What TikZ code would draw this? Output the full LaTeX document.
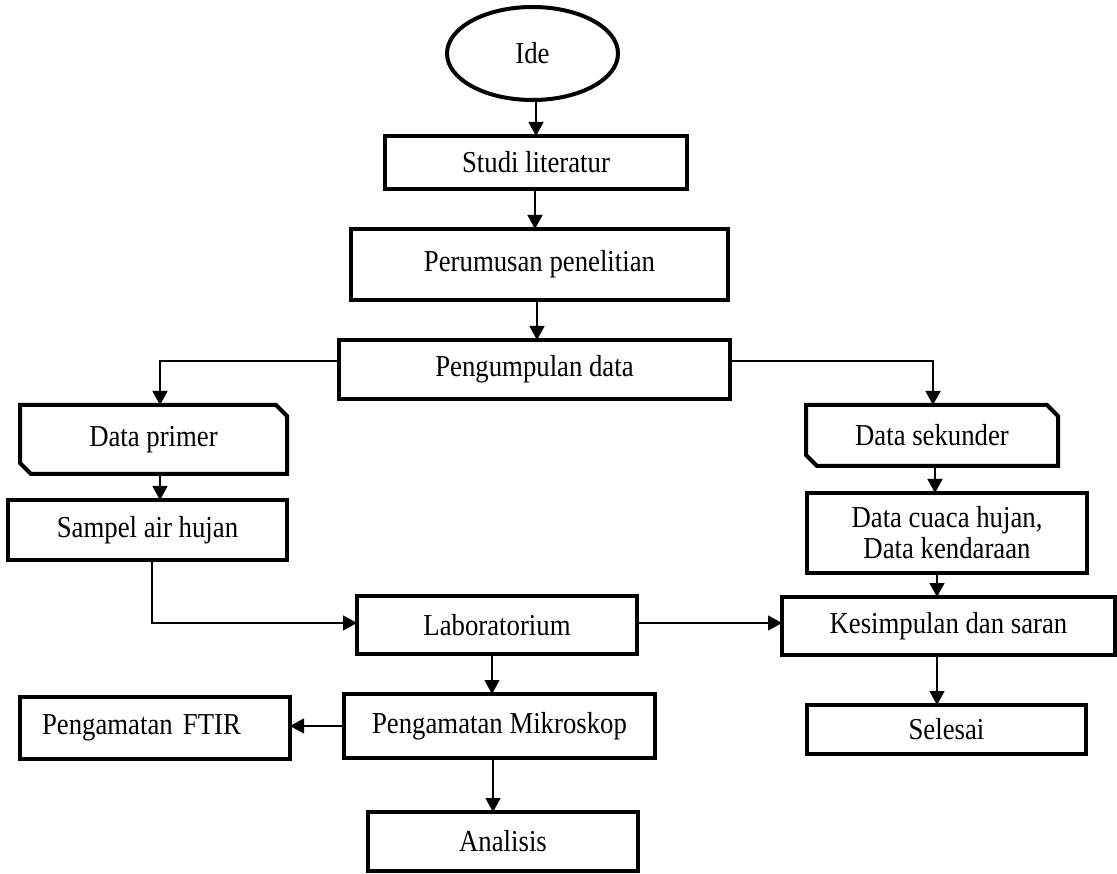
\documentclass[tikz,border=0pt]{standalone}
\usepackage{fontspec}
\setmainfont[FakeStretch=0.88]{Liberation Serif}
\usetikzlibrary{arrows.meta,shapes.geometric,calc}
\begin{document}
\begin{tikzpicture}[x=1pt,y=-1pt,
  every node/.style={font=\fontsize{30.4}{31}\selectfont, inner sep=0pt, outer sep=0pt},
  box/.style={draw, line width=4pt, rectangle, align=center, fill=white},
  cardbox/.style={rectangle, align=center},
  cardline/.style={line width=4pt, line join=miter},
  termbox/.style={draw, line width=4pt, ellipse, fill=white},
  conn/.style={line width=1.4pt},
  arr/.style={line width=1.4pt, -{Triangle[length=14pt,width=15pt]}}
]
\useasboundingbox (0,0) rectangle (1117,874);

% nodes
\node[termbox, minimum width=171pt, minimum height=93pt] (ide) at (532.5,53.5) {Ide};
\node[box, minimum width=302pt, minimum height=53pt] (studi) at (536,162.5) {Studi literatur};
\node[box, minimum width=377pt, minimum height=71pt] (per) at (539.5,264.5) {Perumusan penelitian};
\node[box, minimum width=391pt, minimum height=59pt] (peng) at (534.5,369.5) {Pengumpulan data};

\node[cardbox, minimum width=267pt, minimum height=69pt] (dp) at (153.5,439.5) {Data primer};
\node[box, minimum width=279pt, minimum height=60pt] (sampel) at (147.5,530) {Sampel air hujan};

\node[cardbox, minimum width=252pt, minimum height=61pt] (ds) at (932,435.5) {Data sekunder};
\node[box, minimum width=280pt, minimum height=80pt] (cuaca) at (947,533) {Data cuaca hujan,\\Data kendaraan};

\node[box, minimum width=280pt, minimum height=58pt] (lab) at (497,625) {Laboratorium};
\node[box, minimum width=333pt, minimum height=58pt] (kes) at (948.5,626) {Kesimpulan dan saran};
\node[box, minimum width=311pt, minimum height=64pt] (mik) at (499.5,726) {Pengamatan Mikroskop};
\node[box, minimum height=62pt, inner xsep=22pt, text width=226pt, align=left] (ftir) at (155,728) {Pengamatan FTIR};
\node[box, minimum width=279pt, minimum height=49pt] (sel) at (946.5,729.5) {Selesai};
\node[box, minimum width=270pt, minimum height=59pt] (ana) at (503,841.5) {Analisis};

% card outlines (chamfered top-right and bottom-left)
\foreach \n in {dp,ds}{
  \draw[cardline] (\n.north west) -- ($(\n.north east)+(-11pt,0pt)$) -- ($(\n.north east)+(0pt,-11pt)$)
    -- (\n.south east) -- ($(\n.south west)+(11pt,0pt)$) -- ($(\n.south west)+(0pt,11pt)$) -- cycle;
}

% connectors
\draw[arr] ([xshift=3.5pt]ide.south) -- ([xshift=3.5pt]ide.south |- studi.north);
\draw[arr] ([xshift=-1pt]studi.south) -- ([xshift=-1pt]studi.south |- per.north);
\draw[arr] ([xshift=-2.5pt]per.south) -- ([xshift=-2.5pt]per.south |- peng.north);
\draw[arr] ([yshift=8.5pt]peng.west) -| ([xshift=6.5pt]dp.north);
\draw[arr] ([yshift=8.5pt]peng.east) -| ([xshift=1pt]ds.north);
\draw[arr] ([xshift=6.5pt]dp.south) -- ([xshift=6.5pt]dp.south |- sampel.north);
\draw[arr] ([xshift=3pt]ds.south) -- ([xshift=3pt]ds.south |- cuaca.north);
\draw[arr] ([xshift=-10pt]cuaca.south) -- ([xshift=-10pt]cuaca.south |- kes.north);
\draw[arr] ([xshift=4.5pt]sampel.south) |- ([yshift=2pt]lab.west);
\draw[arr] ([yshift=2pt]lab.east) -- ([yshift=2pt]lab.east -| kes.west);
\draw[arr] ([xshift=-5pt]lab.south) -- ([xshift=-5pt]lab.south |- mik.north);
\draw[arr] (mik.west) -- (mik.west -| ftir.east);
\draw[arr] ([xshift=-6.5pt]mik.south) -- ([xshift=-6.5pt]mik.south |- ana.north);
\draw[arr] ([xshift=-11.5pt]kes.south) -- ([xshift=-11.5pt]kes.south |- sel.north);
\end{tikzpicture}
\end{document}
